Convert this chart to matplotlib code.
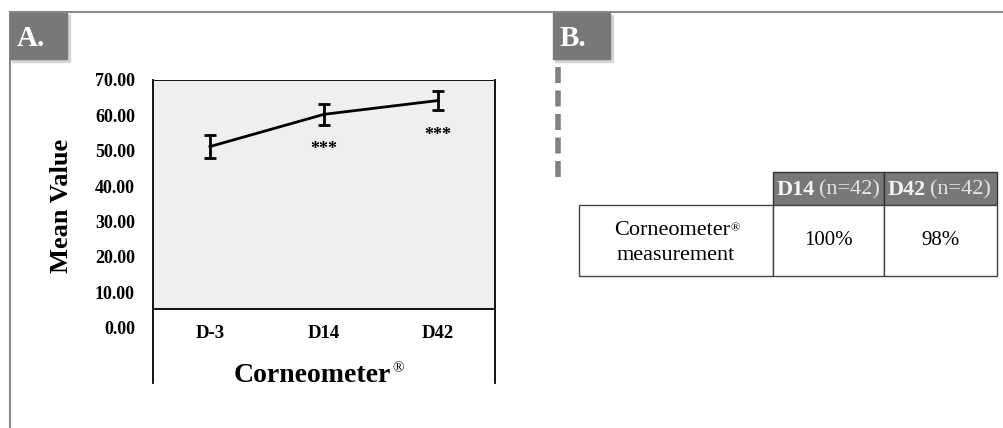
import matplotlib.pyplot as plt
from matplotlib.patches import Rectangle
from matplotlib.lines import Line2D

# chart values (panel A)
days = ["D-3", "D14", "D42"]
means = [51.2, 60.3, 64.2]
errors = [3.3, 2.9, 2.8]
signif = ["", "***", "***"]
yticks = [0, 10, 20, 30, 40, 50, 60, 70]

# table values (panel B)
tab_cols = ["D14", "D42"]
tab_n = [42, 42]
tab_row = ["Corneometer", "measurement"]
tab_vals = ["100%", "98%"]

W, H = 1004, 428
fig = plt.figure(figsize=(W / 100, H / 100), dpi=100)
serif = ["Liberation Serif", "DejaVu Serif"]
gray = "#787878"

# full-figure overlay axes in pixel coordinates (y down)
bg = fig.add_axes([0, 0, 1, 1])
bg.set_xlim(0, W)
bg.set_ylim(H, 0)
bg.axis("off")

# frame lines
bg.add_line(Line2D([10, W], [12, 12], color="#8a8a8a", lw=1.5))
bg.add_line(Line2D([10, 10], [12, H], color="#8a8a8a", lw=1.5))

# panel label boxes with a little shadow
for x0, lab in [(10, "A."), (553, "B.")]:
    bg.add_patch(Rectangle((x0 + 2, 15), 58, 47, color="#d4d4d4", zorder=1))
    bg.add_patch(Rectangle((x0, 13), 57, 46, color=gray, zorder=2))
    bg.text(x0 + 7, 38, lab, color="white", fontsize=21, fontweight="bold",
            family=serif, va="center", ha="left", zorder=3)

# dashed separator
bg.add_line(Line2D([558, 558], [67, 177], color="#808080", lw=4,
                   dashes=(2.88, 1.35), solid_capstyle="butt",
                   dash_capstyle="butt"))

# panel A chart
ax = fig.add_axes([153 / W, 1 - 383 / H, 342 / W, 303 / H])
ymin, ymax = -15.6, 70
ax.set_xlim(-0.5, 2.5)
ax.set_ylim(ymin, ymax)
ax.axhspan(5.4, ymax, color="#efefef", zorder=0)
ax.axhline(5.4, color="black", lw=1.3, zorder=1)
ax.axhline(ymax, color="black", lw=1.3, zorder=1)
for s in ["top", "bottom"]:
    ax.spines[s].set_visible(False)
for s in ["left", "right"]:
    ax.spines[s].set_linewidth(1.3)
ax.set_xticks([])
ax.set_yticks(yticks)
ax.set_yticklabels([f"{v:.2f}" for v in yticks], family=serif,
                   fontweight="bold", fontsize=13)
ax.tick_params(axis="y", length=0, pad=13)

xs = range(len(days))
ax.errorbar(xs, means, yerr=errors, color="black", lw=2, capsize=4.5,
            capthick=2, elinewidth=2, zorder=3)
for x, m, e, s in zip(xs, means, errors, signif):
    if s:
        ax.text(x, m - e - 7.0, s, ha="center", va="center", fontsize=13,
                family=serif, fontweight="bold")
for x, d in zip(xs, days):
    ax.text(x, -1.5, d, ha="center", va="center", fontsize=13.5,
            family=serif, fontweight="bold")
xl = ax.text(0.9, -13.4, "Corneometer", ha="center", va="center",
             fontsize=20, family=serif, fontweight="bold")
ax.annotate("\u00ae", xy=(1, 1), xycoords=xl, ha="left", va="top",
            fontsize=11, family=serif, xytext=(0.5, 0),
            textcoords="offset points")
bg.text(62, 206, "Mean Value", rotation=90, ha="center", va="center",
        fontsize=19, family=serif, fontweight="bold")

# panel B table
x_edges = [579, 773, 884, 997]
y_head, y_top, y_bot = 172, 205, 276
for i, (c, n) in enumerate(zip(tab_cols, tab_n)):
    xa, xb = x_edges[i + 1], x_edges[i + 2]
    bg.add_patch(Rectangle((xa, y_head), xb - xa, y_top - y_head,
                           facecolor=gray, edgecolor="#333333", lw=1))
    t1 = bg.text(xa + 4, (y_head + y_top) / 2 + 1, c, color="#f4f4f4",
                 fontsize=16, fontweight="bold", family=serif, ha="left",
                 va="center")
    bg.annotate(f"(n={n})", xy=(1, 0.5), xycoords=t1, xytext=(3, 0),
                textcoords="offset points", color="#e4e4e4", fontsize=16,
                family=serif, ha="left", va="center")
for i in range(3):
    xa, xb = x_edges[i], x_edges[i + 1]
    bg.add_patch(Rectangle((xa, y_top), xb - xa, y_bot - y_top,
                           facecolor="white", edgecolor="#444444", lw=1))
xc = (x_edges[0] + x_edges[1]) / 2
rl = bg.text(xc - 4, 230, tab_row[0], fontsize=16, family=serif,
             ha="center", va="center")
bg.annotate("\u00ae", xy=(1, 1), xycoords=rl, ha="left", va="top",
            fontsize=9, family=serif, xytext=(0.5, -1),
            textcoords="offset points")
bg.text(xc, 255, tab_row[1], fontsize=16, family=serif, ha="center",
        va="center")
for i, v in enumerate(tab_vals):
    bg.text((x_edges[i + 1] + x_edges[i + 2]) / 2, (y_top + y_bot) / 2, v,
            fontsize=15, family=serif, ha="center", va="center")

fig.savefig("out.png", dpi=100)
